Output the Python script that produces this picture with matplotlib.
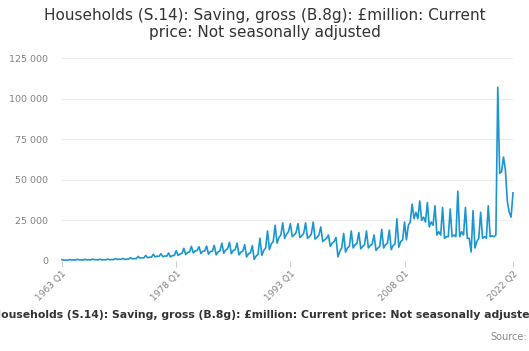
import numpy as np
import matplotlib
matplotlib.use("Agg")
import matplotlib.pyplot as plt
from matplotlib.ticker import FuncFormatter

# quarterly values, £ billion, one row per year (Q1..Q4), 1963 Q1 - 2022 Q2
saving_by_year = {
    1963: [0.8, 0.5, 0.6, 0.5],
    1964: [0.9, 0.6, 0.7, 0.6],
    1965: [1.0, 0.7, 0.7, 0.6],
    1966: [1.0, 0.7, 0.8, 0.7],
    1967: [1.1, 0.8, 0.8, 0.7],
    1968: [1.1, 0.7, 0.8, 0.7],
    1969: [1.2, 0.8, 0.9, 0.8],
    1970: [1.5, 1.0, 1.1, 1.0],
    1971: [1.6, 1.0, 1.1, 1.1],
    1972: [2.1, 1.3, 1.5, 1.4],
    1973: [2.8, 1.8, 2.0, 1.9],
    1974: [3.4, 2.0, 2.4, 2.3],
    1975: [4.2, 2.5, 3.0, 2.9],
    1976: [4.5, 2.6, 3.1, 3.0],
    1977: [4.9, 2.5, 3.3, 3.4],
    1978: [6.3, 3.4, 4.3, 4.6],
    1979: [7.8, 4.0, 5.2, 5.5],
    1980: [9.0, 5.0, 6.2, 6.5],
    1981: [8.8, 4.6, 6.0, 6.2],
    1982: [9.2, 4.2, 5.8, 6.0],
    1983: [9.6, 3.8, 5.6, 6.2],
    1984: [11.0, 4.8, 6.8, 7.5],
    1985: [11.5, 4.5, 6.5, 7.0],
    1986: [11.0, 3.8, 5.5, 6.0],
    1987: [10.0, 2.5, 4.5, 5.0],
    1988: [9.5, 1.0, 3.0, 4.0],
    1989: [14.0, 3.5, 6.5, 8.0],
    1990: [18.5, 7.0, 10.5, 12.0],
    1991: [22.0, 11.0, 14.5, 16.0],
    1992: [23.5, 14.0, 16.5, 18.0],
    1993: [23.0, 15.0, 16.0, 17.5],
    1994: [23.0, 14.5, 15.5, 17.0],
    1995: [23.5, 14.0, 15.0, 16.5],
    1996: [24.0, 13.5, 14.5, 16.0],
    1997: [21.0, 12.0, 13.0, 14.0],
    1998: [16.0, 9.0, 11.0, 12.0],
    1999: [14.5, 2.5, 6.0, 8.0],
    2000: [17.0, 5.5, 8.0, 9.0],
    2001: [18.5, 8.0, 10.0, 11.0],
    2002: [17.5, 7.5, 9.0, 10.0],
    2003: [18.5, 8.0, 9.5, 10.5],
    2004: [16.0, 6.5, 8.0, 9.0],
    2005: [19.5, 8.0, 10.0, 11.0],
    2006: [19.0, 7.0, 9.5, 10.5],
    2007: [26.0, 8.5, 12.0, 13.0],
    2008: [24.0, 13.0, 22.0, 24.0],
    2009: [35.0, 26.0, 30.0, 26.0],
    2010: [37.0, 25.0, 27.0, 24.0],
    2011: [36.0, 21.0, 24.0, 22.0],
    2012: [34.0, 16.0, 18.0, 16.0],
    2013: [33.0, 14.0, 15.0, 15.0],
    2014: [32.0, 15.0, 16.0, 15.0],
    2015: [43.0, 15.0, 18.0, 16.0],
    2016: [33.0, 14.0, 14.0, 5.5],
    2017: [31.0, 8.0, 12.0, 14.0],
    2018: [30.0, 14.0, 15.0, 14.0],
    2019: [34.0, 15.0, 15.5, 15.0],
    2020: [16.0, 107.0, 54.0, 55.0],
    2021: [64.0, 56.0, 37.0, 30.0],
    2022: [27.0, 42.0],
}

tick_labels = ["1963 Q1", "1978 Q1", "1993 Q1", "2008 Q1", "2022 Q2"]
y_ticks = [0, 25000, 50000, 75000, 100000, 125000]

title = "Households (S.14): Saving, gross (B.8g): £million: Current\nprice: Not seasonally adjusted"
series_name = "Households (S.14): Saving, gross (B.8g): £million: Current price: Not seasonally adjusted"

quarters = []
values = []
for year, qs in saving_by_year.items():
    for q, v in enumerate(qs):
        quarters.append(f"{year} Q{q + 1}")
        values.append(v * 1000)

x = np.arange(len(values))

fig = plt.figure(figsize=(5.29, 3.51), dpi=100)
ax = fig.add_axes([62 / 529, 1 - 261 / 351, (513 - 62) / 529, (261 - 58) / 351])

ax.plot(x, values, color="#1a96d2", linewidth=1.2, clip_on=False, zorder=3)

ax.set_xlim(0, len(values) - 1)
ax.set_ylim(0, 125000)
ax.set_yticks(y_ticks)
ax.yaxis.set_major_formatter(FuncFormatter(lambda v, p: f"{int(v):,}".replace(",", " ")))
ax.grid(axis="y", color="#ececec", linewidth=0.8)
ax.set_axisbelow(True)

ax.set_xticks([quarters.index(t) for t in tick_labels])
ax.set_xticklabels(tick_labels, rotation=45, ha="right", rotation_mode="anchor")

for s in ax.spines.values():
    s.set_visible(False)
ax.tick_params(axis="y", length=0, pad=10, labelsize=6.8, labelcolor="#808080")
ax.tick_params(axis="x", length=4, color="#cccccc", pad=2, labelsize=6.5, labelcolor="#808080")

fig.text(0.5, 1 - 24 / 351, title, ha="center", va="center", fontsize=11,
         color="#333333", linespacing=1.2)
fig.text(0.5, 1 - 315 / 351, series_name, ha="center", va="center", fontsize=7.8,
         fontweight="bold", color="#333333")
fig.text(527 / 529, 1 - 337 / 351, "Source:", ha="right", va="center", fontsize=7,
         color="#888888")

fig.savefig("out.png", dpi=100)
